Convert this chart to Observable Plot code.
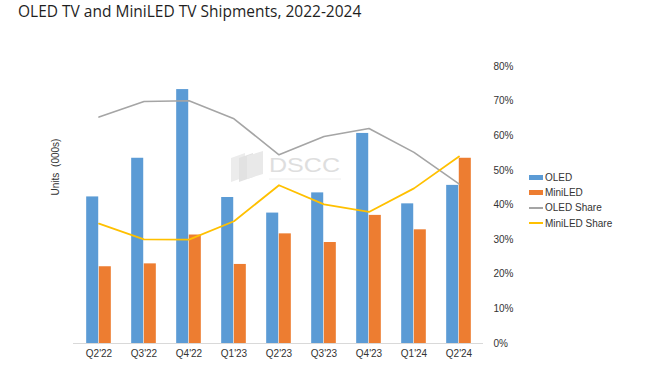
<!DOCTYPE html>
<html>
<head>
<meta charset="utf-8">
<script src="https://cdn.jsdelivr.net/npm/d3@7"></script>
<script src="https://cdn.jsdelivr.net/npm/@observablehq/plot@0.6"></script>
<style>
  html, body { margin: 0; padding: 0; background: #fff; }
  #wrap { position: relative; width: 670px; height: 365px; overflow: hidden; font-family: "Liberation Sans", Arial, sans-serif; }
  #title { height: 30px; box-sizing: border-box; padding: 1px 0 0 18px; font-family: "Open Sans", sans-serif; font-size: 15.5px; line-height: 20px; color: #1f1f1f; }
  #ylab { position: absolute; left: 55px; top: 167px; transform: translate(-50%, -50%) rotate(-90deg); font-size: 10px; color: #333; white-space: nowrap; word-spacing: 3px; }
  #legend { position: absolute; left: 529px; top: 170px; font-size: 10px; color: #333; }
  .row { height: 15.2px; display: flex; align-items: center; }
  .sw { width: 14px; margin-right: 2px; }
  #wm { position: absolute; left: 229px; top: 150px; pointer-events: none; }
  svg { display: block; }
</style>
</head>
<body>
<div id="wrap">
  <div id="title">OLED TV and MiniLED TV Shipments, 2022-2024</div>
  <div id="chart"></div>
  <div id="ylab">Units (000s)</div>
  <div id="wm">
    <svg width="120" height="34" viewBox="0 0 120 34">
      <polygon points="2,8 16,3 16,27 2,32" fill="#ececec"/>
      <polygon points="10,8 24,3 24,27 10,32" fill="#e2e2e2"/>
      <polygon points="18,6 34,1 34,24 18,29" fill="#e9e9e9"/>
      <text x="40" y="22" font-family="Liberation Sans, Arial, sans-serif" font-size="21" textLength="71" lengthAdjust="spacingAndGlyphs" fill="#dedede">DSCC</text>
      <line x1="40" y1="29" x2="112" y2="29" stroke="#eeeeee" stroke-width="1"/>
    </svg>
  </div>
  <div id="legend"></div>
</div>
<script>
const quarters = ["Q2'22","Q3'22","Q4'22","Q1'23","Q2'23","Q3'23","Q4'23","Q1'24","Q2'24"];
const oledUnits = [1270, 1605, 2200, 1265, 1130, 1305, 1820, 1210, 1370];
const miniledUnits = [665, 690, 940, 685, 950, 875, 1110, 985, 1605];
const oledShare = [65.4, 69.9, 70.1, 64.9, 54.5, 59.8, 62.1, 55.2, 46.1];
const miniledShare = [34.6, 30.1, 30.0, 35.3, 45.7, 40.2, 38.0, 44.8, 54.0];
const shareTicks = [0, 10, 20, 30, 40, 50, 60, 70, 80];

const colors = {OLED: "#5b9bd5", MiniLED: "#ed7d31", "OLED Share": "#a5a5a5", "MiniLED Share": "#ffc000"};

const unitMax = 2400;   // left (unlabelled) axis max, aligned with 80%
const shareMax = 80;

const rows = quarters.map((q, i) => ({
  q, oled: oledUnits[i], mini: miniledUnits[i], oShare: oledShare[i], mShare: miniledShare[i]
}));

const W = 670, H = 335, mL = 73, mR = 187, mT = 36, mB = 22;
const bw = (W - mL - mR) / quarters.length;
const barW = 12.6;
const toY = u => u / unitMax * (shareMax / 100);

const plot = Plot.plot({
  width: W, height: H,
  marginLeft: mL, marginRight: mR, marginTop: mT, marginBottom: mB,
  style: {fontFamily: "Liberation Sans, Arial, sans-serif", fontSize: "10px", color: "#333", background: "#fff"},
  x: {type: "band", domain: quarters, padding: 0, label: null},
  y: {domain: [0, shareMax / 100], label: null},
  marks: [
    Plot.barY(rows, {x: "q", y: d => toY(d.oled), fill: colors.OLED, insetLeft: bw / 2 - barW, insetRight: bw / 2}),
    Plot.barY(rows, {x: "q", y: d => toY(d.mini), fill: colors.MiniLED, insetLeft: bw / 2, insetRight: bw / 2 - barW}),
    Plot.ruleY([0], {stroke: "#d9d9d9", strokeWidth: 1}),
    Plot.lineY(rows, {x: "q", y: d => d.oShare / 100, stroke: colors["OLED Share"], strokeWidth: 1.6}),
    Plot.lineY(rows, {x: "q", y: d => d.mShare / 100, stroke: colors["MiniLED Share"], strokeWidth: 1.8}),
    Plot.axisX({tickSize: 0, tickPadding: 6, fill: "#333", label: null}),
    Plot.axisY({anchor: "right", ticks: shareTicks.map(t => t / 100), tickFormat: d => Math.round(d * 100) + "%", tickSize: 0, tickPadding: 10, fill: "#333", label: null})
  ]
});
document.getElementById("chart").appendChild(plot);

// legend
const legend = d3.select("#legend");
const items = [
  {name: "OLED", kind: "bar"},
  {name: "MiniLED", kind: "bar"},
  {name: "OLED Share", kind: "line"},
  {name: "MiniLED Share", kind: "line"}
];
items.forEach(it => {
  const r = legend.append("div").attr("class", "row");
  r.append("div").attr("class", "sw")
    .style("height", it.kind === "bar" ? "5px" : "1.6px")
    .style("background", colors[it.name]);
  r.append("span").text(it.name);
});
</script>
</body>
</html>
